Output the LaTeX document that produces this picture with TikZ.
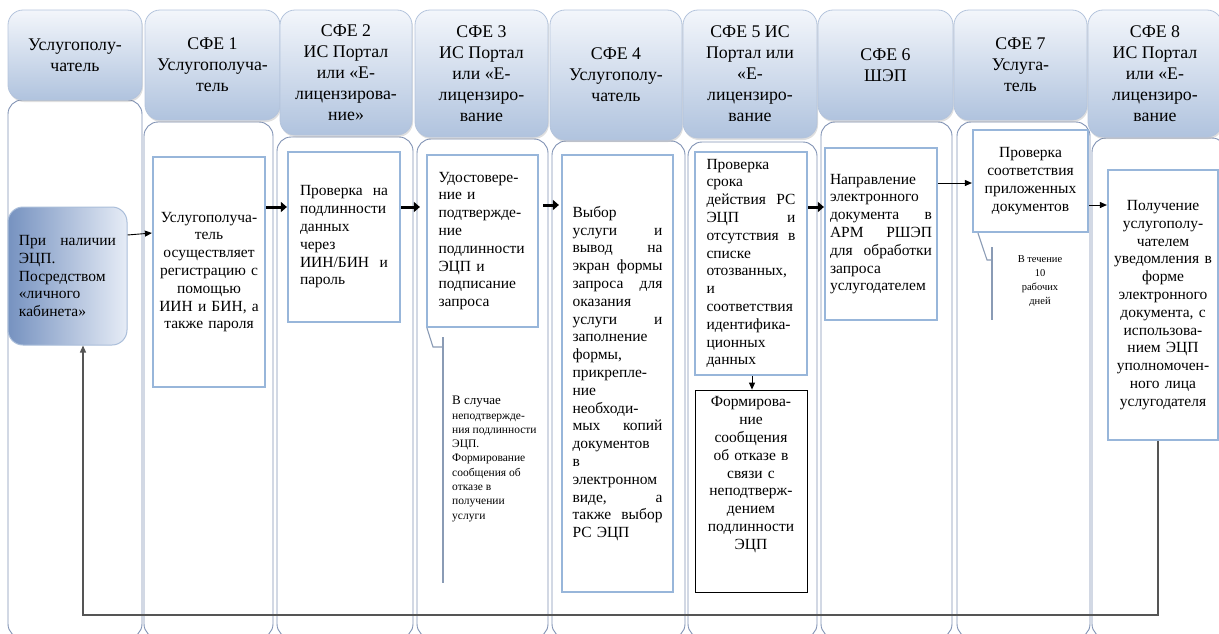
\documentclass[tikz,border=0pt]{standalone}
\usepackage{fontspec}
\setmainfont{Liberation Serif}
\usetikzlibrary{arrows.meta,shadows,calc}
\definecolor{lanec}{RGB}{128,146,180}
\definecolor{boxc}{RGB}{152,182,218}
\definecolor{hdrtop}{RGB}{243,246,251}
\definecolor{hdrbot}{RGB}{176,195,222}
\definecolor{hdrline}{RGB}{180,196,220}
\definecolor{calloutc}{RGB}{138,155,181}
\definecolor{retc}{RGB}{85,85,85}
\definecolor{adark}{RGB}{118,146,192}
\definecolor{alight}{RGB}{230,236,246}
\definecolor{aline}{RGB}{170,190,218}
\newcommand\hdrfont{\fontsize{17.8}{21}\selectfont}
\newcommand\bodyfont{\fontsize{15.5}{17.8}\selectfont}
\newcommand\smallfont{\fontsize{11.5}{14.3}\selectfont}
\newcommand\tinyfont{\fontsize{10.5}{13.8}\selectfont}
\tikzset{
  lane/.style={draw=lanec, line width=0.9pt, rounded corners=14pt, fill=white, inner sep=0pt},
  hdr/.style={draw=hdrline, line width=0.8pt, rounded corners=15pt, top color=hdrtop, bottom color=hdrbot,
    drop shadow={shadow xshift=1pt, shadow yshift=-2pt, opacity=0.25}, align=center, font=\hdrfont, inner sep=2pt},
  ibox/.style={draw=boxc, line width=2.2pt, fill=white, inner sep=0pt, font=\bodyfont},
  jtext/.style={align=left},
  ctext/.style={align=center},
  blackbox/.style={draw=black, line width=0.8pt, fill=white, inner sep=0pt},
  thinarrow/.style={draw=black, line width=0.9pt, -{Triangle[length=7pt,width=6pt]}},
  thickarrow/.style={draw=black, line width=3pt, -{Triangle[length=6pt,width=10pt]}},
  calloutline/.style={draw=calloutc, line width=1.1pt},
  retline/.style={draw=retc, line width=1.3pt, -{Triangle[length=7pt,width=6pt]}},
}
\begin{document}
\begin{tikzpicture}[x=1pt,y=-1pt]
\useasboundingbox (0,0) rectangle (1219,633);
\clip (0,0) rectangle (1219,633);
% lanes
\node[lane, minimum width=134pt, minimum height=538pt] (l0) at (75,369) {};
\node[lane, minimum width=129pt, minimum height=516pt] (l1) at (208.5,380) {};
\node[lane, minimum width=136pt, minimum height=501pt] (l2) at (345,387.5) {};
\node[lane, minimum width=131pt, minimum height=499pt] (l3) at (482.5,388.5) {};
\node[lane, minimum width=133pt, minimum height=497pt] (l4) at (618.5,389.5) {};
\node[lane, minimum width=129pt, minimum height=496pt] (l5) at (752.5,390) {};
\node[lane, minimum width=131pt, minimum height=516pt] (l6) at (886.5,380) {};
\node[lane, minimum width=133pt, minimum height=516pt] (l7) at (1023.5,380) {};
\node[lane, minimum width=134pt, minimum height=500pt] (l8) at (1159,388) {};
% headers
\node[hdr, minimum width=134pt, minimum height=90pt] (h0) at (75,55) {Услугополу-\\чатель};
\node[hdr, minimum width=135pt, minimum height=110pt] (h1) at (212.5,65) {СФЕ 1\\Услугополуча-\\тель};
\node[hdr, minimum width=132pt, minimum height=125pt] (h2) at (346,72.5) {СФЕ 2\\ИС Портал\\или «Е-\\лицензирова-\\ние»};
\node[hdr, minimum width=133pt, minimum height=127pt] (h3) at (481.5,73.5) {СФЕ 3\\ИС Портал\\или «Е-\\лицензиро-\\вание};
\node[hdr, minimum width=132pt, minimum height=130pt] (h4) at (616,75) {СФЕ 4\\Услугополу-\\чатель};
\node[hdr, minimum width=134pt, minimum height=128pt] (h5) at (750,74) {СФЕ 5 ИС\\Портал или\\«Е-\\лицензиро-\\вание};
\node[hdr, minimum width=135pt, minimum height=110pt] (h6) at (885.5,65) {СФЕ 6\\ШЭП};
\node[hdr, minimum width=133pt, minimum height=110pt] (h7) at (1020.5,65) {СФЕ 7\\Услуга-\\тель};
\node[hdr, minimum width=134pt, minimum height=127pt] (h8) at (1155,73.5) {СФЕ 8\\ИС Портал\\или «Е-\\лицензиро-\\вание};
% inner boxes
\node[draw=aline, line width=1pt, rounded corners=15pt, left color=adark, right color=alight,
      font=\bodyfont, jtext, text width=97pt, minimum width=119pt, minimum height=138pt, inner sep=0pt] (A) at (67.5,276)
  {При\hfill наличии\\ЭЦП.\\Посредством\\«личного\\кабинета»};
\node[ibox, ctext, text width=106pt, minimum width=112pt, minimum height=230pt] (B) at (209,272)
  {Услугополуча-\\тель\\осуществляет\\регистрацию с\\помощью\\ИИН и БИН, а\\также пароля};
\node[ibox, jtext, text width=88pt, minimum width=112pt, minimum height=170pt] (C) at (344,237)
  {Проверка\hfill на\\подлинности\\данных\\через\\ИИН/БИН\hfill и\\пароль};
\node[ibox, jtext, text width=88pt, minimum width=111pt, minimum height=172pt] (D) at (482.5,241)
  {Удостовере-\\ние и\\подтвержде-\\ние\\подлинности\\ЭЦП и\\подписание\\запроса};
\node[ibox, jtext, text width=90pt, minimum width=111pt, minimum height=437pt] (E) at (617.5,373.5)
  {Выбор\\услуги\hfill и\\вывод\hfill на\\экран\hfill формы\\запроса\hfill для\\оказания\\услуги\hfill и\\заполнение\\формы,\\прикрепле-\\ние\\необходи-\\мых\hfill копий\\документов\\в\\электронном\\виде,\hfill а\\также\hfill выбор\\РС ЭЦП};
\node[ibox, jtext, text width=89pt, minimum width=112pt, minimum height=223pt] (F) at (751,263.5)
  {Проверка\\срока\\действия\hfill РС\\ЭЦП\hfill и\\отсутствия\hfill в\\списке\\отозванных,\\и\\соответствия\\идентифика-\\ционных\\данных};
\node[blackbox, minimum width=112pt, minimum height=202pt] (G) at (751,491) {};
\node[font=\bodyfont, ctext, text width=104pt, inner sep=0pt, anchor=north] (Gt) at ([yshift=-7pt]G.north)
  {Формирова-\\ние\\сообщения\\об отказе в\\связи с\\неподтверж-\\дением\\подлинности\\ЭЦП};
\node[ibox, jtext, text width=102pt, minimum width=112pt, minimum height=172pt] (H) at (881,234)
  {Направление\\электронного\\документа\hfill в\\АРМ\hfill РШЭП\\для\hfill обработки\\запроса\\услугодателем};
\node[ibox, ctext, text width=110pt, minimum width=115pt, minimum height=102pt] (I) at (1030.5,181)
  {Проверка\\соответствия\\приложенных\\документов};
\node[ibox, ctext, text width=106pt, minimum width=110pt, minimum height=270pt] (J) at (1163,305)
  {Получение\\услугополу-\\чателем\\уведомления в\\форме\\электронного\\документа, с\\использова-\\нием ЭЦП\\уполномочен-\\ного лица\\услугодателя};
% callouts
\coordinate (dc1) at (433,347);
\coordinate (dc2) at (443,347);
\coordinate (dtop) at (443,337);
\coordinate (dbot) at (443,583);
\draw[calloutline] ([xshift=-55.5pt]D.south) -- (dc1) -- (dc2);
\draw[calloutline] (dtop) -- (dbot);
\node[font=\smallfont, align=left, inner sep=0pt, anchor=north west] (Dn) at (452,396)
  {{\fontsize{13}{15}\selectfont В случае}\\неподтвержде-\\ния подлинности\\ЭЦП.\\Формирование\\сообщения об\\отказе в\\получении\\услуги};
\coordinate (ic1) at (987,260);
\coordinate (ic2) at (992,260);
\coordinate (itop) at (992,247);
\coordinate (ibot) at (992,320);
\draw[calloutline] ([xshift=-52.5pt]I.south) -- (ic1) -- (ic2);
\draw[calloutline] (itop) -- (ibot);
\node[font=\tinyfont, align=center, inner sep=0pt] (In) at (1040,281) {В течение\\10\\рабочих\\дней};
% arrows
\draw[thinarrow] ([yshift=41pt]A.east) -- ([yshift=39pt]B.west);
\draw[thickarrow] ([yshift=65pt]B.east) -- ([yshift=30pt]C.west);
\draw[thickarrow, shorten >=6pt] ([yshift=30pt]C.east) -- ([yshift=34pt]D.west);
\draw[thickarrow, shorten <=4pt, shorten >=2pt] ([yshift=36pt]D.east) -- ([yshift=168.5pt]E.west);
\draw[thickarrow] ([yshift=56.5pt]F.east) -- ([yshift=27pt]H.west);
\draw[thinarrow] ([yshift=51pt]H.east) -- ([yshift=-2pt]I.west);
\draw[thinarrow] ([yshift=-24pt]I.east) -- ([yshift=100pt]J.west);
\draw[thinarrow] ([xshift=1pt]F.south) -- ([xshift=1pt]G.north);
\coordinate (ret) at (600,615);
\draw[retline] ([xshift=-5pt]J.south) |- (ret) -| ([xshift=15.5pt]A.south);
\end{tikzpicture}
\end{document}
